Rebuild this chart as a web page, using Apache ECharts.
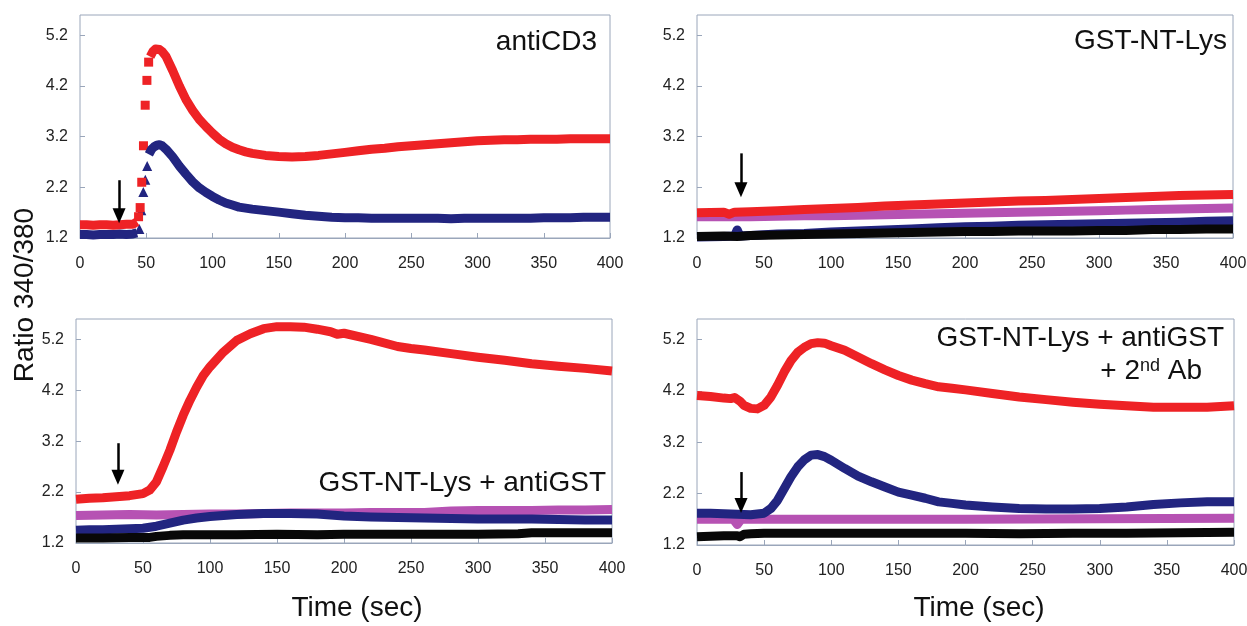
<!DOCTYPE html>
<html><head><meta charset="utf-8">
<script src="https://cdn.jsdelivr.net/npm/echarts@6/dist/echarts.min.js"></script>
<style>html,body{margin:0;padding:0;background:#fff}#c{width:1247px;height:626px}</style>
</head><body><div id="c"></div><script>
// ---- tick labels ----
const xTicks = [0,50,100,150,200,250,300,350,400];
const yTicks = [1.2,2.2,3.2,4.2,5.2];

// ---- Panel A: antiCD3 ----
const aRedT = [0,5,10,15,20,25,30,35,40,43,45,53,55,57,60,62,65,70,75,80,85,90,95,100,105,110,115,120,125,130,140,150,160,170,180,190,200,210,220,230,240,250,260,270,280,290,300,310,320,330,340,350,360,370,380,390,400];
const aRedV = [1.46,1.46,1.45,1.46,1.46,1.45,1.46,1.47,1.47,1.52,null,4.78,4.88,4.93,4.92,4.88,4.78,4.5,4.2,3.93,3.72,3.54,3.4,3.27,3.15,3.06,2.99,2.94,2.9,2.87,2.83,2.81,2.80,2.81,2.83,2.86,2.89,2.92,2.95,2.97,3.0,3.02,3.04,3.06,3.08,3.1,3.12,3.13,3.14,3.14,3.15,3.15,3.15,3.16,3.16,3.16,3.16];
const aRedRiseT = [44.2,45.4,46.6,47.9,49.2,50.5,51.8];
const aRedRiseV = [1.62,1.8,2.3,3.02,3.82,4.31,4.67];
const aBlueT = [0,5,10,15,20,25,30,35,40,43,45,52,54,56,58,60,62,65,70,75,80,85,90,95,100,105,110,115,120,130,140,150,160,170,180,190,200,210,220,230,240,250,260,270,280,290,300,310,320,330,340,350,360,370,380,390,400];
const aBlueV = [1.27,1.27,1.26,1.27,1.27,1.27,1.28,1.27,1.28,1.3,null,2.85,2.95,3.0,3.03,3.04,3.02,2.95,2.8,2.62,2.46,2.31,2.19,2.1,2.02,1.95,1.89,1.85,1.81,1.77,1.74,1.71,1.68,1.65,1.63,1.61,1.60,1.60,1.59,1.59,1.59,1.59,1.59,1.59,1.58,1.59,1.59,1.59,1.59,1.59,1.59,1.60,1.60,1.60,1.61,1.61,1.61];
const aBlueRiseT = [44.8,46.3,47.8,49.3,50.7];
const aBlueRiseV = [1.38,1.75,2.11,2.35,2.62];

// ---- Panel B: GST-NT-Lys ----
const bRedT = [0,20,24,28,40,60,80,100,120,140,160,180,200,220,240,260,280,300,320,340,360,380,400];
const bRedV = [1.70,1.71,1.67,1.71,1.72,1.74,1.76,1.78,1.80,1.83,1.85,1.87,1.89,1.91,1.93,1.94,1.96,1.98,2.0,2.02,2.04,2.05,2.06];
const bPurT = [0,20,40,60,80,100,120,140,160,180,200,220,240,260,280,300,320,340,360,380,400];
const bPurV = [1.62,1.62,1.62,1.63,1.64,1.64,1.65,1.66,1.67,1.68,1.69,1.70,1.71,1.72,1.73,1.74,1.75,1.76,1.77,1.78,1.79];
const bBlueT = [0,20,28,30,32,40,60,80,100,120,140,160,180,200,220,240,260,280,300,320,340,360,380,400];
const bBlueV = [1.22,1.23,1.24,1.36,1.24,1.25,1.28,1.29,1.32,1.34,1.36,1.38,1.40,1.42,1.43,1.45,1.46,1.47,1.48,1.49,1.50,1.51,1.53,1.54];
const bBlackT = [0,20,30,40,60,80,100,120,140,160,180,200,220,240,260,280,300,320,340,360,380,400];
const bBlackV = [1.23,1.24,1.23,1.25,1.26,1.27,1.28,1.29,1.30,1.31,1.32,1.33,1.33,1.34,1.34,1.34,1.35,1.35,1.37,1.37,1.38,1.38];

// ---- Panel C: GST-NT-Lys + antiGST ----
const cRedT = [0,10,20,30,40,50,55,60,65,70,75,80,85,90,95,100,110,120,130,140,150,160,170,180,190,195,200,220,240,250,260,280,300,320,340,360,380,400];
const cRedV = [2.06,2.08,2.09,2.11,2.13,2.17,2.24,2.4,2.7,3.02,3.38,3.71,4.0,4.26,4.49,4.66,4.95,5.18,5.31,5.41,5.45,5.45,5.44,5.4,5.35,5.3,5.32,5.2,5.06,5.02,4.99,4.92,4.85,4.79,4.72,4.67,4.63,4.58];
const cPurT = [0,20,40,60,80,100,120,140,160,180,200,220,240,260,280,300,320,340,360,380,400];
const cPurV = [1.74,1.75,1.76,1.75,1.76,1.77,1.77,1.78,1.79,1.79,1.79,1.80,1.80,1.80,1.83,1.84,1.84,1.84,1.85,1.85,1.86];
const cBlueT = [0,10,20,30,40,50,60,70,80,90,100,110,120,140,160,180,200,220,240,260,280,300,320,340,360,380,400];
const cBlueV = [1.45,1.46,1.46,1.47,1.48,1.49,1.53,1.59,1.65,1.69,1.72,1.74,1.76,1.78,1.78,1.77,1.73,1.71,1.70,1.69,1.68,1.67,1.67,1.67,1.66,1.65,1.65];
const cBlackT = [0,20,40,55,60,70,80,100,120,150,180,200,250,300,330,340,350,400];
const cBlackV = [1.30,1.30,1.31,1.31,1.33,1.35,1.36,1.36,1.36,1.37,1.36,1.37,1.37,1.37,1.38,1.40,1.40,1.40];

// ---- Panel D: GST-NT-Lys + antiGST + 2nd Ab ----
const dRedT = [0,10,20,25,28,32,35,40,45,50,55,60,65,70,75,80,85,90,95,100,110,120,130,140,150,160,170,180,190,200,220,240,260,280,300,320,340,360,380,400];
const dRedV = [4.11,4.09,4.06,4.05,4.07,4.0,3.92,3.86,3.85,3.92,4.08,4.31,4.57,4.79,4.95,5.05,5.12,5.14,5.13,5.08,4.99,4.86,4.73,4.61,4.5,4.41,4.34,4.28,4.25,4.22,4.15,4.08,4.03,3.98,3.94,3.91,3.88,3.88,3.88,3.91];
const dPurT = [0,20,27,30,33,40,100,200,300,400];
const dPurV = [1.70,1.70,1.70,1.60,1.70,1.70,1.70,1.70,1.71,1.72];
const dBlueT = [0,10,20,30,40,50,55,60,65,70,75,80,85,90,95,100,110,120,130,140,150,160,170,180,190,200,220,240,260,280,300,320,340,360,380,400];
const dBlueV = [1.82,1.82,1.81,1.8,1.79,1.82,1.91,2.07,2.3,2.53,2.72,2.86,2.95,2.96,2.92,2.85,2.69,2.54,2.43,2.33,2.23,2.17,2.11,2.04,2.01,1.98,1.94,1.91,1.9,1.9,1.91,1.94,1.99,2.02,2.04,2.04];
const dBlackT = [0,10,20,30,32,35,40,50,80,120,160,200,240,280,320,360,400];
const dBlackV = [1.36,1.37,1.38,1.38,1.36,1.41,1.42,1.43,1.43,1.43,1.43,1.43,1.42,1.43,1.43,1.44,1.45];

// ---- stimulus arrows (time, top value, tip value) per panel ----
const arrowT = [29.5,32.8,31.3,32.8];
const arrowTopV = [2.34,2.87,3.16,2.62];
const arrowTipV = [1.64,2.15,2.49,1.97];

// ---- labels ----
const panelTitles = ['antiCD3','GST-NT-Lys','GST-NT-Lys + antiGST','GST-NT-Lys + antiGST'];
const yName = 'Ratio 340/380';
const xName = 'Time (sec)';

// ---- styling ----
const RED = '#ee2225', BLUE = '#222580', PURPLE = '#b652b3', BLACK = '#080808';
const FRAME = '#9aa6ba';
const FONT = '"Liberation Sans", Arial, sans-serif';
const BAND = 9;

function pts(t, v){ return t.map((x,i)=> [x, v[i]===null ? '-' : v[i]]); }

const grids = [
  {left:80, top:15, width:530, height:223},
  {left:697, top:15, width:536, height:223},
  {left:76, top:319, width:536, height:224},
  {left:697, top:319, width:537, height:226}
].map(g => Object.assign(g, {show:true, borderColor:FRAME, borderWidth:1, backgroundColor:'transparent', containLabel:false, outerBoundsMode:'none'}));

const xAxes = grids.map((g,i)=>({
  type:'value', gridIndex:i, min:0, max:400, interval:50,
  axisLine:{show:true, lineStyle:{color:FRAME, width:1}},
  axisTick:{show:true, inside:true, length:5, lineStyle:{color:FRAME}},
  axisLabel:{margin:18, fontSize:16, color:'#222', fontFamily:FONT,
             customValues: xTicks},
  splitLine:{show:false}
}));
const yAxes = grids.map((g,i)=>({
  type:'value', gridIndex:i, min:1.2, max:5.6,
  axisLine:{show:false},
  axisTick:{show:true, inside:true, length:5, lineStyle:{color:FRAME}, customValues: yTicks},
  axisLabel:{margin:12, fontSize:16, color:'#222', fontFamily:FONT,
             customValues: yTicks, formatter: v => Number(v).toFixed(1)},
  splitLine:{show:false}
}));

function band(i, t, v, color, w){
  return {type:'line', xAxisIndex:i, yAxisIndex:i, data:pts(t,v), showSymbol:false, symbol:'none',
          connectNulls:false, lineStyle:{color, width:w||BAND, join:'round', cap:'butt'}, silent:true, animation:false};
}
function dots(i, t, v, color, sym, size){
  return {type:'scatter', xAxisIndex:i, yAxisIndex:i, data:pts(t,v), symbol:sym, symbolSize:size,
          itemStyle:{color, opacity:1}, silent:true, animation:false};
}
function arrow(i){
  return {type:'line', xAxisIndex:i, yAxisIndex:i, data:[], silent:true, animation:false,
    markLine:{silent:true, animation:false, symbol:['none','triangle'], symbolSize:[13,15],
      lineStyle:{color:'#000', width:2.5, type:'solid'}, label:{show:false},
      emphasis:{disabled:true},
      data:[[{coord:[arrowT[i], arrowTopV[i]]},{coord:[arrowT[i], arrowTipV[i]]}]]}};
}

const series = [
  band(0, aBlueT, aBlueV, BLUE),
  dots(0, aBlueRiseT, aBlueRiseV, BLUE, 'triangle', 10),
  band(0, aRedT, aRedV, RED),
  dots(0, aRedRiseT, aRedRiseV, RED, 'rect', 9),
  arrow(0),

  band(1, bPurT, bPurV, PURPLE),
  band(1, bBlueT, bBlueV, BLUE),
  band(1, bBlackT, bBlackV, BLACK),
  band(1, bRedT, bRedV, RED),
  arrow(1),

  band(2, cPurT, cPurV, PURPLE),
  band(2, cBlueT, cBlueV, BLUE),
  band(2, cBlackT, cBlackV, BLACK),
  band(2, cRedT, cRedV, RED),
  arrow(2),

  band(3, dPurT, dPurV, PURPLE),
  band(3, dBlueT, dBlueV, BLUE),
  band(3, dBlackT, dBlackV, BLACK),
  band(3, dRedT, dRedV, RED),
  arrow(3)
];

function txt(text, x, y, align, size, extra){
  return {type:'text', x, y, silent:true, style:Object.assign({
    text, font: size+'px '+FONT, fontSize:size, fontFamily:FONT, fill:'#111',
    align, textAlign:align, verticalAlign:'middle', textVerticalAlign:'middle'}, extra||{})};
}

const graphic = [
  txt(panelTitles[0], 597, 42, 'right', 28),
  txt(panelTitles[1], 1227, 41, 'right', 28),
  txt(panelTitles[2], 606, 483, 'right', 28),
  txt(panelTitles[3], 1224, 338, 'right', 28),
  txt('+ 2{sup|nd} Ab', 1202, 371, 'right', 28, {rich:{sup:{fontSize:18, fontFamily:FONT, fill:'#111', verticalAlign:'top', padding:[0,0,10,0]}}}),
  txt(xName, 357, 608, 'center', 28),
  txt(xName, 979, 608, 'center', 28),
  Object.assign(txt(yName, 25, 295, 'center', 28), {rotation: Math.PI/2})
];

const chart = echarts.init(document.getElementById('c'), null, {renderer:'canvas', width:1247, height:626});
chart.setOption({
  animation:false,
  backgroundColor:'#ffffff',
  grid: grids, xAxis: xAxes, yAxis: yAxes, series, graphic
});
</script></body></html>
